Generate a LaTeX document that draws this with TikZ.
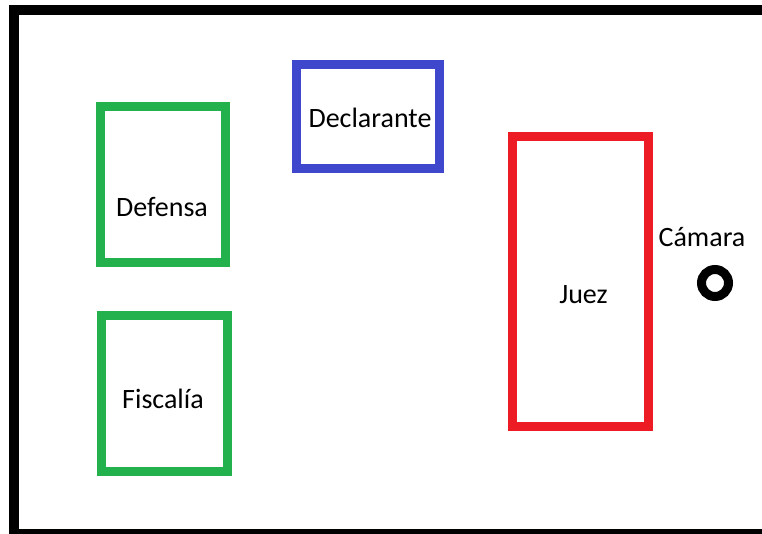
\documentclass[tikz,border=0pt]{standalone}
\usepackage{fontspec}
\setmainfont{Carlito}
\definecolor{pgreen}{HTML}{22B14C}
\definecolor{pblue}{HTML}{3F48CC}
\definecolor{pred}{HTML}{ED1C24}
\tikzset{
  room/.style={draw=black, line width=10pt},
  box/.style={draw=#1, line width=9pt, fill=white, inner sep=0pt},
  lbl/.style={font=\fontsize{28}{32}\selectfont, inner sep=0pt, text=black},
  cam/.style={draw=black, line width=9pt}
}
\begin{document}
\begin{tikzpicture}[x=1pt,y=-1pt]
\useasboundingbox (0,0) rectangle (762,534);
\clip (0,0) rectangle (762,534);
\fill[white] (0,0) rectangle (762,534);
\draw[room] (14,10) rectangle (790,534);
\node[box=pblue, minimum width=143pt, minimum height=104pt] (declarante) at (368,116.5) {};
\node[box=pgreen, minimum width=125pt, minimum height=156pt] (defensa) at (162.5,185) {};
\node[box=pgreen, minimum width=126pt, minimum height=156pt] (fiscalia) at (164.5,393.5) {};
\node[box=pred, minimum width=136pt, minimum height=290pt] (juez) at (580.5,281.5) {};
\coordinate (camara) at (715,283);
\draw[cam] (camara) circle[radius=13.5pt];
\node[lbl] (declaranteT) at (370,118) {Declarante};
\node[lbl] (defensaT) at (162,207) {Defensa};
\node[lbl] (fiscaliaT) at (163,399) {Fiscalía};
\node[lbl] (juezT) at (583.5,295) {Juez};
\node[lbl] (camaraT) at (702,237) {Cámara};
\end{tikzpicture}
\end{document}
